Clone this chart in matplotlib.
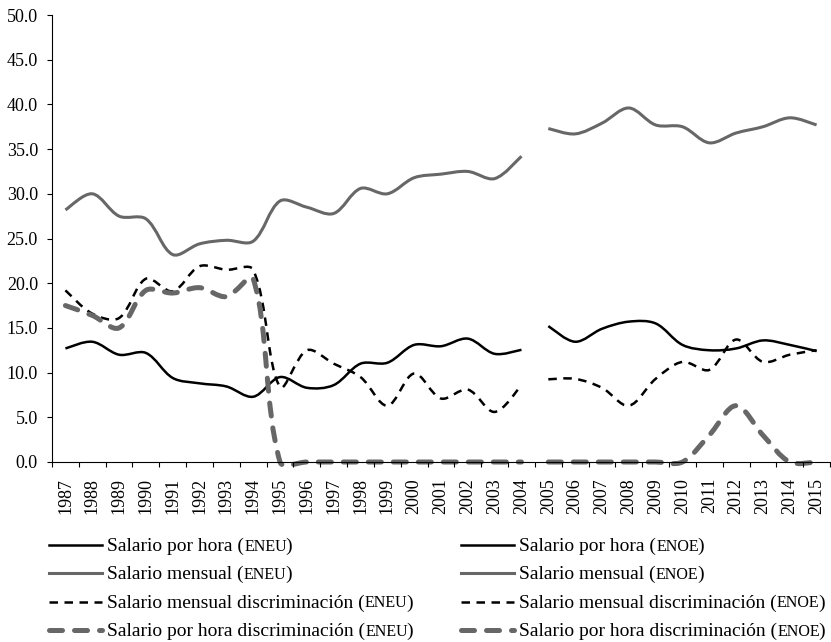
import numpy as np
import matplotlib
matplotlib.use('Agg')
import matplotlib.pyplot as plt
from matplotlib.path import Path
from matplotlib.patches import PathPatch
from matplotlib.lines import Line2D
from matplotlib.ticker import FormatStrFormatter
from matplotlib.offsetbox import HPacker, TextArea, DrawingArea, AnchoredOffsetbox

# years (categories)
years = list(range(1987, 2016))
years_eneu = list(range(1987, 2005))
years_enoe = list(range(2005, 2016))

# ENEU series 1987-2004
hora_eneu = [12.7, 13.45, 12.0, 12.2, 9.4, 8.8, 8.45, 7.3, 9.5, 8.3, 8.6,
             11.0, 11.1, 13.1, 12.95, 13.8, 12.1, 12.55]
mensual_eneu = [28.2, 30.0, 27.5, 27.2, 23.2, 24.4, 24.8, 24.7, 29.2, 28.5,
                27.8, 30.6, 30.0, 31.8, 32.2, 32.5, 31.7, 34.2]
disc_mensual_eneu = [19.2, 16.6, 16.1, 20.5, 19.1, 21.9, 21.5, 21.5, 8.4,
                     12.5, 11.0, 9.5, 6.3, 9.9, 7.1, 8.1, 5.6, 8.6]
disc_hora_eneu = [17.5, 16.4, 15.0, 19.2, 18.9, 19.5, 18.5, 20.5, 0.0, 0.0,
                  0.0, 0.0, 0.0, 0.0, 0.0, 0.0, 0.0, 0.0]

# ENOE series 2005-2015
hora_enoe = [15.2, 13.45, 14.9, 15.7, 15.5, 13.1, 12.5, 12.7, 13.6, 13.1, 12.4]
mensual_enoe = [37.3, 36.7, 37.9, 39.6, 37.7, 37.5, 35.7, 36.8, 37.5, 38.5, 37.7]
disc_mensual_enoe = [9.25, 9.3, 8.3, 6.3, 9.3, 11.2, 10.3, 13.7, 11.2, 12.0, 12.5]
disc_hora_enoe = [0.0, 0.0, 0.0, 0.0, 0.0, 0.0, 3.0, 6.3, 3.0, 0.0, 0.0]

FONT = 'Liberation Serif'
GRAY = '#676767'

styles = {
    'hora': dict(color='black', linewidth=1.8, linestyle='-'),
    'mensual': dict(color=GRAY, linewidth=2.2, linestyle='-'),
    'disc_mensual': dict(color='black', linewidth=1.8, linestyle=(0, (3.4, 2.6))),
    'disc_hora': dict(color=GRAY, linewidth=3.6, linestyle=(0, (2.6, 2.4))),
}


def smooth_path(ax, x, y):
    # excel-like smoothed line, control points worked out in screen space
    pts = ax.transData.transform(np.column_stack([x, y]).astype(float))
    n = len(pts)
    dist = np.hypot(*np.diff(pts, axis=0).T)
    verts = [pts[0]]
    codes = [Path.MOVETO]
    for i in range(n - 1):
        p0 = pts[max(i - 1, 0)]
        p1 = pts[i]
        p2 = pts[i + 1]
        p3 = pts[min(i + 2, n - 1)]
        d01 = dist[i - 1] if i > 0 else dist[i]
        d12 = dist[i]
        d23 = dist[i + 1] if i + 1 < n - 1 else dist[i]
        f1 = d12 / (d01 + d12) / 3.0
        f2 = d12 / (d12 + d23) / 3.0
        verts += [p1 + (p2 - p0) * f1, p2 - (p3 - p1) * f2, p2]
        codes += [Path.CURVE4] * 3
    verts = ax.transData.inverted().transform(np.array(verts))
    return Path(verts, codes)


def draw_series(ax, yrs, vals, st):
    xpos = [years.index(yr) for yr in yrs]
    patch = PathPatch(smooth_path(ax, xpos, vals), fill=False, edgecolor=st['color'],
                      linewidth=st['linewidth'], linestyle=st['linestyle'],
                      joinstyle='round', capstyle='round' if st['linewidth'] > 3 else 'butt',
                      clip_on=False)
    ax.add_patch(patch)


fig = plt.figure(figsize=(8.31, 6.42), dpi=100)
ax = fig.add_axes([52 / 831, 180 / 642, 778 / 831, 447 / 642])
ax.set_xlim(-0.5, len(years) - 0.5)
ax.set_ylim(0, 50)

for key, e_vals, o_vals in [('hora', hora_eneu, hora_enoe),
                            ('mensual', mensual_eneu, mensual_enoe),
                            ('disc_mensual', disc_mensual_eneu, disc_mensual_enoe),
                            ('disc_hora', disc_hora_eneu, disc_hora_enoe)]:
    draw_series(ax, years_eneu, e_vals, styles[key])
    draw_series(ax, years_enoe, o_vals, styles[key])

ax.set_xlim(-0.5, len(years) - 0.5)
ax.set_ylim(0, 50)
ax.set_yticks(np.arange(0, 50.1, 5))
ax.yaxis.set_major_formatter(FormatStrFormatter('%.1f'))
# labels on the year centres, tick marks on the boundaries
ax.set_xticks(np.arange(len(years)))
ax.set_xticklabels([str(yr) for yr in years], rotation=90)
ax.set_xticks(np.arange(-0.5, len(years), 1), minor=True)
ax.tick_params(axis='x', which='minor', length=3.6, width=0.8, direction='out')
ax.tick_params(axis='x', which='major', length=0, pad=11.5)
ax.tick_params(axis='y', length=3.6, width=0.8, direction='out', pad=6.5)
for lab in ax.get_xticklabels() + ax.get_yticklabels():
    lab.set_fontfamily(FONT)
    lab.set_fontsize(13)
for side in ['top', 'right']:
    ax.spines[side].set_visible(False)
for side in ['left', 'bottom']:
    ax.spines[side].set_linewidth(0.8)

# legend built by hand so the survey tags can be small caps
legend_rows = [
    ('hora', 'Salario por hora'),
    ('mensual', 'Salario mensual'),
    ('disc_mensual', 'Salario mensual discriminación'),
    ('disc_hora', 'Salario por hora discriminación'),
]
baselines = [551, 579, 607.5, 636]
columns = [(49, 'ENEU'), (461, 'ENOE')]

for col_x, tag in columns:
    for (key, label), base in zip(legend_rows, baselines):
        st = styles[key]
        da = DrawingArea(38, 8, 0, 0)
        da.add_artist(Line2D([0, 38], [4, 4], color=st['color'], linewidth=st['linewidth'],
                             linestyle=st['linestyle'],
                             dash_capstyle='round' if st['linewidth'] > 3 else 'butt'))
        tp = dict(fontfamily=FONT, fontsize=14, color='black')
        sp = dict(fontfamily=FONT, fontsize=11.5, color='black')
        head = HPacker(children=[TextArea(label + ' (', textprops=tp),
                                 TextArea(tag, textprops=sp)],
                       align='baseline', pad=0, sep=0)
        txt = HPacker(children=[head, TextArea(')', textprops=tp)],
                      align='baseline', pad=0, sep=-1)
        row = HPacker(children=[da, txt], align='baseline', pad=0, sep=4)
        box = AnchoredOffsetbox(loc='lower left', child=row, pad=0, borderpad=0,
                                frameon=False,
                                bbox_to_anchor=(col_x / 831, 1 - (base + 4) / 642),
                                bbox_transform=fig.transFigure)
        fig.add_artist(box)

fig.savefig('out.png', dpi=100)
